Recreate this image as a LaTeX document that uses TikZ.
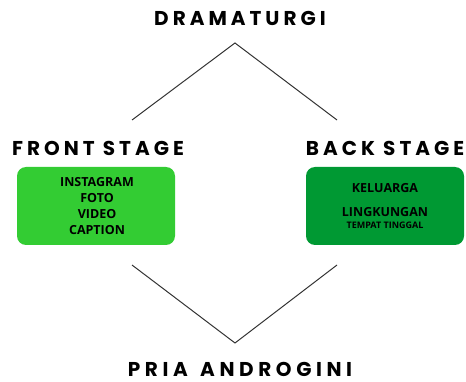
\documentclass[tikz,border=0pt]{standalone}
\usepackage{fontspec}
\newfontfamily\titlefont[LetterSpace=20]{Poppins Bold}
\newfontfamily\titlefontwide[LetterSpace=23,WordSpace=1.4]{Poppins Bold}
\newfontfamily\boxfont{Open Sans Bold}
\definecolor{lightgreen}{HTML}{33CC33}
\definecolor{darkgreen}{HTML}{009933}
\definecolor{linegray}{HTML}{333333}
\begin{document}
\begin{tikzpicture}[x=1pt,y=-1pt,
  title/.style={font=\titlefont\fontsize{20}{20}\selectfont, inner sep=0pt, text depth=0pt, anchor=base},
  titlewide/.style={title, font=\titlefontwide\fontsize{20}{20}\selectfont},
  greenbox/.style={rounded corners=9pt, minimum width=158pt, minimum height=78pt, inner sep=0pt},
  boxtext/.style={font=\boxfont\fontsize{12.5}{12.5}\selectfont, inner sep=0pt, anchor=center},
  smalltext/.style={font=\boxfont\fontsize{9}{9}\selectfont, inner sep=0pt, anchor=center},
  conn/.style={draw=linegray, line width=1pt}]
\useasboundingbox (0,0) rectangle (466,382);
\node[title] (dram) at (240,26) {DRAMATURGI};
\node[titlewide] (pria) at (240,376) {PRIA ANDROGINI};
\node[title] (front) at (98,156) {FRONT STAGE};
\node[title] (back) at (385,156) {BACK STAGE};
\node[greenbox, fill=lightgreen] (fbox) at (96,206) {};
\node[greenbox, fill=darkgreen] (bbox) at (385,206) {};
\node[boxtext] (t1) at (97,182) {INSTAGRAM};
\node[boxtext] (t2) at (97,198) {FOTO};
\node[boxtext] (t3) at (97,214) {VIDEO};
\node[boxtext] (t4) at (97,230) {CAPTION};
\node[boxtext] (k1) at (385,188) {KELUARGA};
\node[boxtext] (k2) at (385,212) {LINGKUNGAN};
\node[smalltext] (k3) at (385,225) {TEMPAT TINGGAL};
\coordinate (topapex) at (235,43);
\coordinate (tl) at (132,120);
\coordinate (tr) at (337,120);
\coordinate (bl) at (132,265);
\coordinate (br) at (337,265);
\coordinate (botapex) at (235,343);
\draw[conn] (tl) -- (topapex) -- (tr);
\draw[conn] (bl) -- (botapex) -- (br);
\end{tikzpicture}
\end{document}
